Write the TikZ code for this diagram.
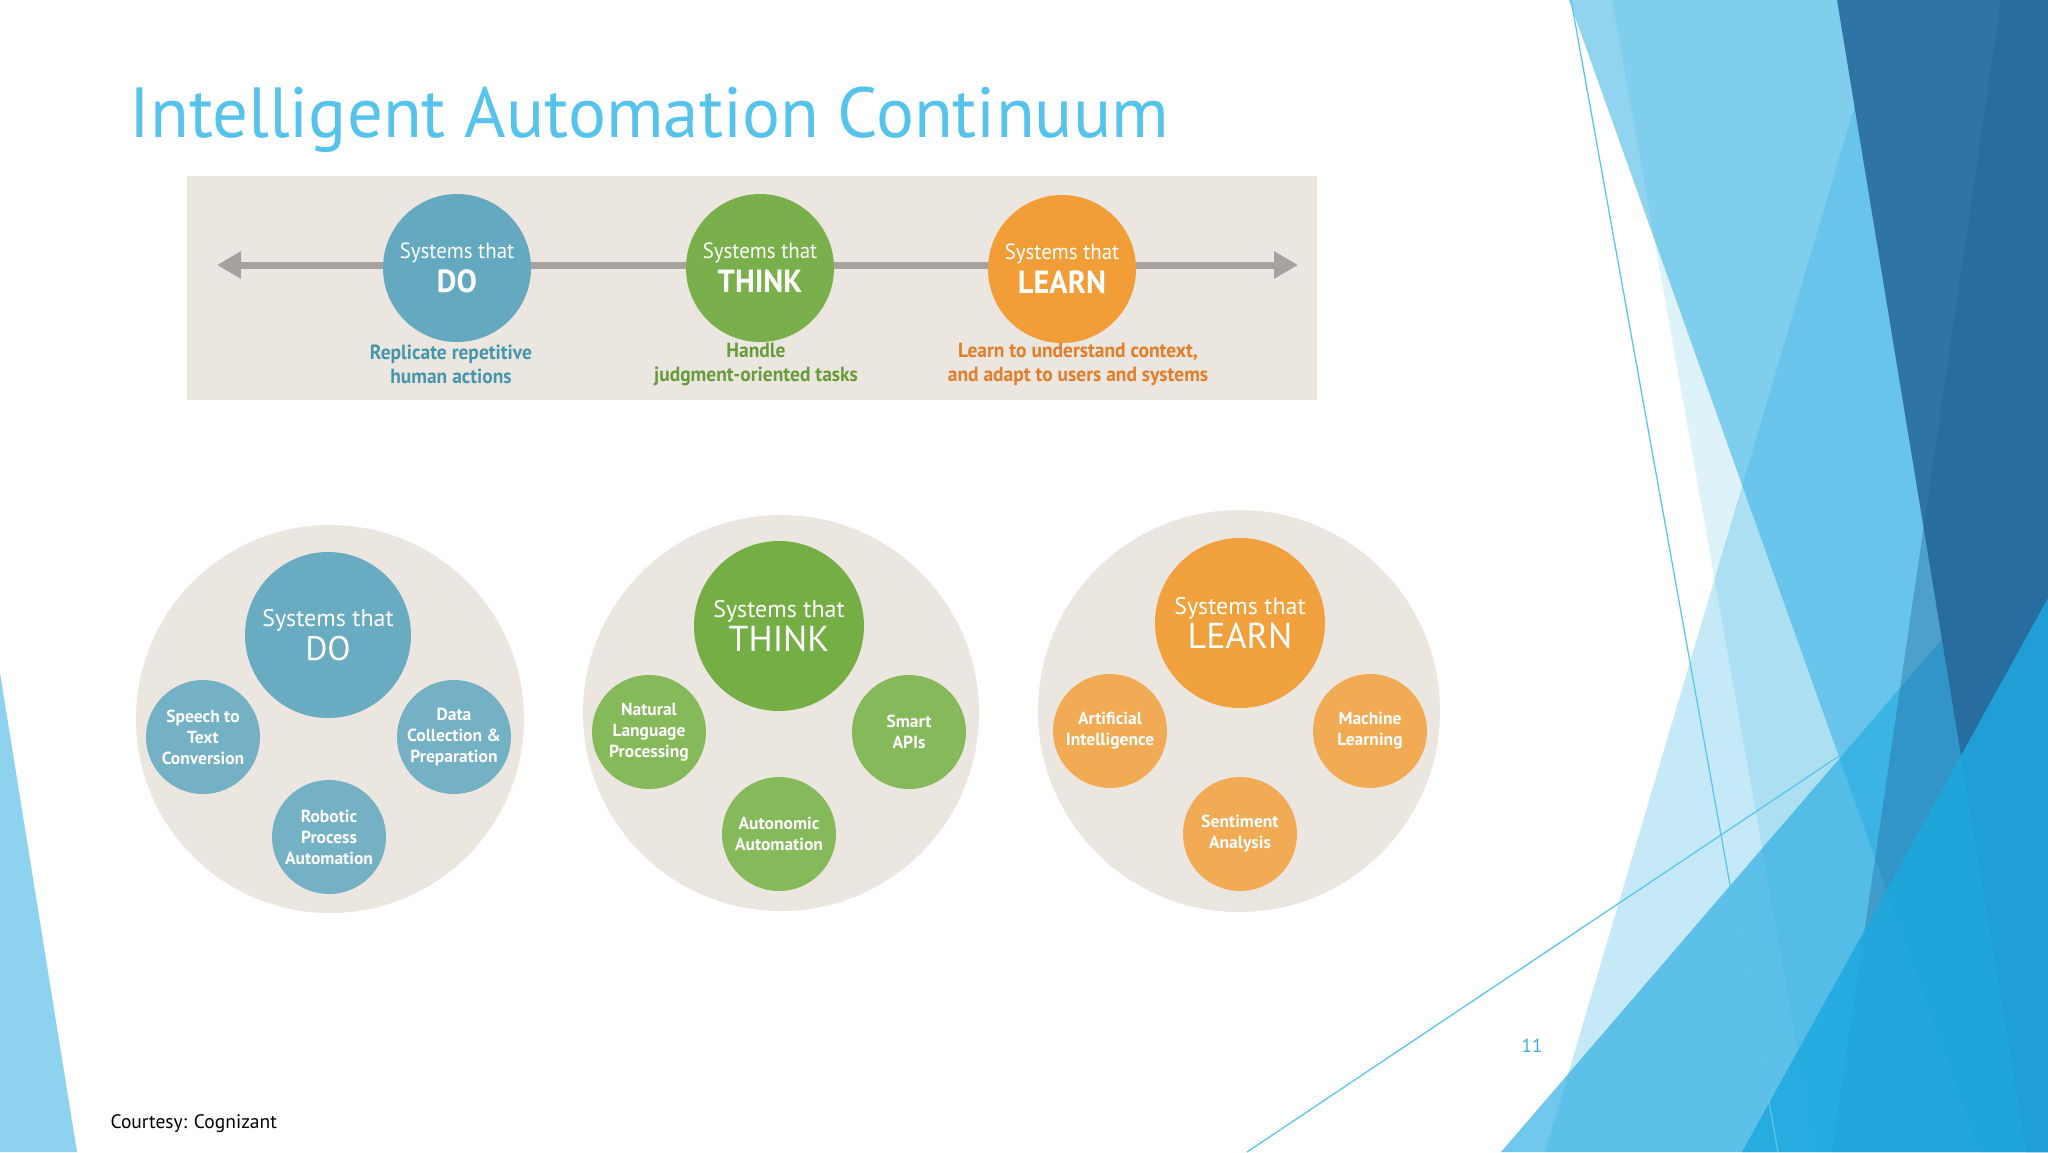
\documentclass[tikz,border=0pt]{standalone}
\usepackage{fontspec}
\setmainfont{PT Sans}
\newfontfamily\condfont[FakeStretch=0.95]{PT Sans}
\usetikzlibrary{arrows.meta,positioning}
\definecolor{sand}{RGB}{235,230,223}
\definecolor{axisgray}{RGB}{166,163,159}
\definecolor{dotone}{RGB}{100,169,191}
\definecolor{thinktwo}{RGB}{121,176,75}
\definecolor{learnthree}{RGB}{242,158,56}
\definecolor{dohub}{RGB}{105,171,192}
\definecolor{dospoke}{RGB}{116,177,196}
\definecolor{thinkhub}{RGB}{116,174,68}
\definecolor{thinkspoke}{RGB}{134,185,90}
\definecolor{learnhub}{RGB}{240,160,60}
\definecolor{learnspoke}{RGB}{242,171,85}
\definecolor{docap}{RGB}{70,150,172}
\definecolor{thinkcap}{RGB}{104,155,58}
\definecolor{learncap}{RGB}{226,125,40}
\definecolor{facet}{RGB}{36,171,226}
\definecolor{facetdark}{RGB}{46,117,165}
\definecolor{facetdeep}{RGB}{31,95,149}
\definecolor{facetbright}{RGB}{30,168,223}
\definecolor{facetline}{RGB}{91,197,236}
\definecolor{titleblue}{RGB}{85,195,235}
\definecolor{pageblue}{RGB}{63,176,216}

\begin{document}
\begin{tikzpicture}[x=1pt, y=-1pt,
    stage/.style={circle, fill=#1, minimum size=148pt, inner sep=0pt, text=white, align=center, font=\condfont\fontsize{22}{24}\selectfont},
    caption/.style={text=#1, align=center, font=\condfont\bfseries\fontsize{20.5}{24}\selectfont},
    disc/.style={circle, fill=sand, minimum size=#1, inner sep=0pt},
    hub/.style={circle, fill=#1, minimum size=170pt, inner sep=0pt, text=white, align=center, font=\fontsize{24}{26}\selectfont},
    spoke/.style={circle, fill=#1, minimum size=114pt, inner sep=0pt, text=white, align=center, font=\bfseries\fontsize{17.5}{21}\selectfont},
    axis/.style={draw=axisgray, line width=7pt, {Triangle[length=24pt,width=26pt]}-{Triangle[length=24pt,width=26pt]}}
]

\useasboundingbox (0,0) rectangle (2048,1152);
\fill[white] (0,0) rectangle (2048,1152);

% slide facets
\fill[facet, opacity=.15] (1612,0) -- (2048,0) -- (2048,1152) -- (1816,1152) -- cycle;
\fill[facet, opacity=.26] (1886,0) -- (2048,0) -- (2048,1152) -- (1545,1152) -- cycle;
\fill[facet, opacity=.5] (1569,0) -- (2048,0) -- (2048,1152) -- (1980,1152) -- cycle;
\fill[facet, opacity=.65] (1501,1152) -- (2048,516) -- (2048,1152) -- cycle;
\fill[facetdark] (1837,0) -- (2048,0) -- (2048,1152) -- (2026,1152) -- cycle;
\fill[facetdeep, opacity=.35] (2001,0) -- (2048,0) -- (2048,1152) -- (1832,1152) -- cycle;
\fill[facetbright, opacity=.85] (2048,598) -- (2048,1152) -- (1742,1152) -- cycle;
\fill[facet!52] (0,673) -- (77,1152) -- (0,1152) -- cycle;
\draw[facetline, line width=1.3pt] (1571,0) -- (1778,1152);
\draw[facetline, line width=1.3pt] (1247,1152) -- (1839,756);

\node[anchor=base west, text=titleblue, font=\fontsize{71}{80}\selectfont] (title) at (126,137) {Intelligent Automation Continuum};

% continuum banner
\fill[sand] (187,176) rectangle (1317,400);
\coordinate (arrowL) at (217,265);
\coordinate (arrowR) at (1298,265);
\draw[axis] (arrowL) -- (arrowR);

\node[stage=dotone] (doStage) at (457,268) {Systems that\\[6pt]{\bfseries\fontsize{32}{32}\selectfont DO}};
\node[stage=thinktwo] (thinkStage) at (760,268) {Systems that\\[6pt]{\bfseries\fontsize{32}{32}\selectfont THINK}};
\node[stage=learnthree] (learnStage) at (1062,269) {Systems that\\[6pt]{\bfseries\fontsize{32}{32}\selectfont LEARN}};

\node[caption=docap] (doCap) at (451,364) {Replicate repetitive\\human actions};
\node[caption=thinkcap] (thinkCap) at (756,364) {Handle\\judgment-oriented tasks};
\node[caption=learncap] (learnCap) at (1078,364) {Learn to understand context,\\and adapt to users and systems};

% DO cluster
\node[disc=388pt] (doDisc) at (330,719) {};
\node[hub=dohub, minimum size=166pt] (doHub) at (328,635) {Systems that\\[4pt]{\fontsize{34}{34}\selectfont DO}};
\node[spoke=dospoke] (speech) at (203,737) {Speech to\\Text\\Conversion};
\node[spoke=dospoke] (dataPrep) at (454,737) {Data\\Collection \&\\Preparation};
\node[spoke=dospoke] (rpa) at (329,837) {Robotic\\Process\\Automation};

% THINK cluster
\node[disc=396pt] (thinkDisc) at (781,713) {};
\node[hub=thinkhub] (thinkHub) at (779,626) {Systems that\\[3pt]{\fontsize{36}{36}\selectfont THINK}};
\node[spoke=thinkspoke] (nlp) at (649,732) {Natural\\Language\\Processing};
\node[spoke=thinkspoke] (apis) at (909,732) {Smart\\APIs};
\node[spoke=thinkspoke] (autonomic) at (779,834) {Autonomic\\Automation};

% LEARN cluster
\node[disc=402pt] (learnDisc) at (1239,711) {};
\node[hub=learnhub] (learnHub) at (1240,623) {Systems that\\[3pt]{\fontsize{36}{36}\selectfont LEARN}};
\node[spoke=learnspoke] (ai) at (1110,731) {Artificial\\Intelligence};
\node[spoke=learnspoke] (ml) at (1370,731) {Machine\\Learning};
\node[spoke=learnspoke] (sentiment) at (1240,834) {Sentiment\\Analysis};

\node[text=pageblue, font=\fontsize{19}{20}\selectfont] (pageNo) at (1532,1046) {11};
\node[anchor=base west, text=black, font=\fontsize{19.5}{22}\selectfont] (credit) at (107,1128) {Courtesy: Cognizant};

\end{tikzpicture}
\end{document}
